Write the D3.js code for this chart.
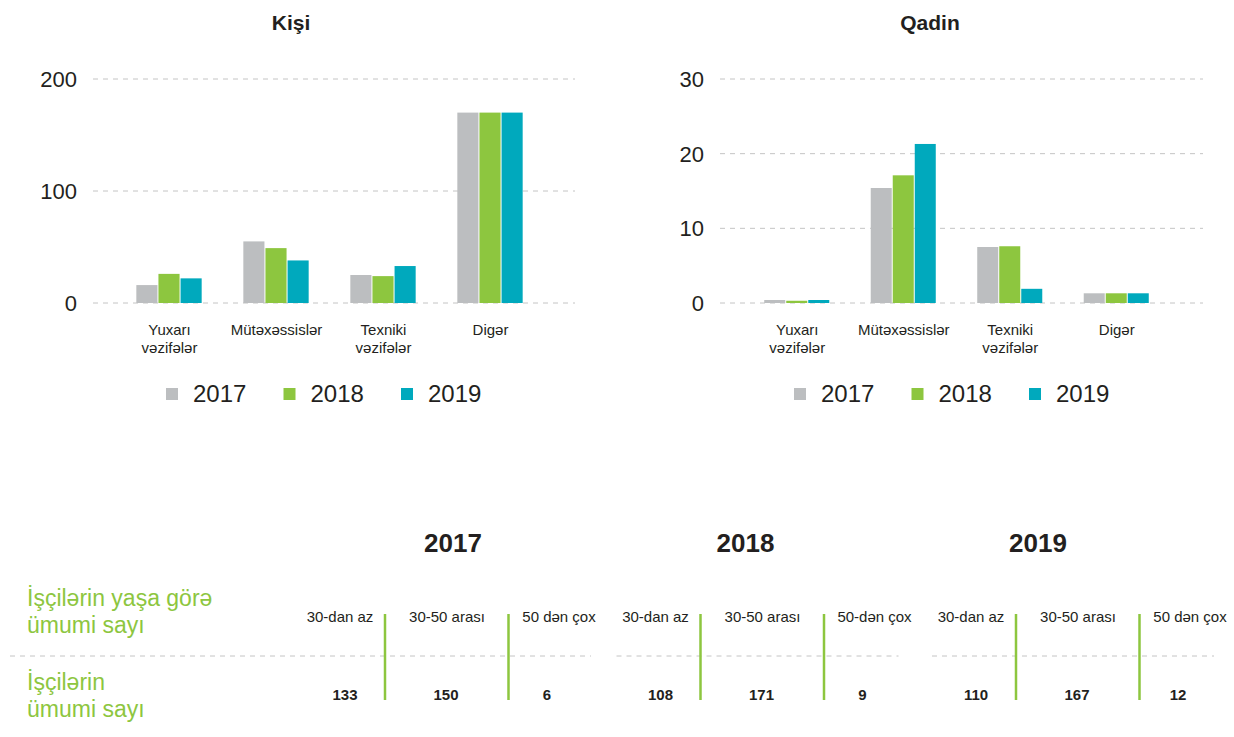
<!DOCTYPE html>
<html>
<head>
<meta charset="utf-8">
<script src="https://cdn.jsdelivr.net/npm/d3@7"></script>
<style>
  body { margin: 0; background: #fff; }
  svg { font-family: "Liberation Sans", Arial, sans-serif; }
</style>
</head>
<body>
<svg class="mySVG" width="1234" height="737"></svg>
<script>
// --- data ---
var categories = [["Yuxarı", "vəzifələr"], ["Mütəxəssislər"], ["Texniki", "vəzifələr"], ["Digər"]];
var years = ["2017", "2018", "2019"];

var kisi2017 = [16, 55, 25, 170];
var kisi2018 = [26, 49, 24, 170];
var kisi2019 = [22, 38, 33, 170];
var kisiTicks = [0, 100, 200];

var qadin2017 = [0.4, 15.4, 7.5, 1.3];
var qadin2018 = [0.3, 17.1, 7.6, 1.3];
var qadin2019 = [0.4, 21.3, 1.9, 1.3];
var qadinTicks = [0, 10, 20, 30];

var ageLabels2017 = ["30-dan az", "30-50 arası", "50 dən çox"];
var ageLabels2018 = ["30-dan az", "30-50 arası", "50-dən çox"];
var ageLabels2019 = ["30-dan az", "30-50 arası", "50 dən çox"];
var counts2017 = [133, 150, 6];
var counts2018 = [108, 171, 9];
var counts2019 = [110, 167, 12];
var rowLabels = [["İşçilərin yaşa görə", "ümumi sayı"], ["İşçilərin", "ümumi sayı"]];

var colors = ["#bcbec0", "#8dc63f", "#00a9bd"];
var dark = "#231f20", grid = "#c4c4c4", green = "#8dc63f";

var svg = d3.select(".mySVG");
var color = d3.scaleOrdinal().domain(years).range(colors);

function barChart(opts) {
    var g = svg.append("g");
    var y = d3.scaleLinear().domain([0, opts.max]).range([303, 79]);
    var x0 = d3.scaleBand()
        .domain(d3.range(categories.length))
        .range(opts.band)
        .paddingInner(0.38)
        .paddingOuter(0.19);
    var x1 = d3.scaleBand().domain(years).range([0, x0.bandwidth()]);

    g.append("text")
        .attr("x", opts.titleX).attr("y", 30)
        .attr("text-anchor", "middle")
        .attr("font-size", 21).attr("font-weight", "bold")
        .attr("fill", dark)
        .text(opts.title);

    // grid + tick labels
    g.selectAll(".grid")
        .data(opts.ticks)
        .join("line")
            .attr("x1", opts.grid[0]).attr("x2", opts.grid[1])
            .attr("y1", d => y(d)).attr("y2", d => y(d))
            .attr("stroke", grid).attr("stroke-width", 1)
            .attr("stroke-dasharray", "5,5");
    g.selectAll(".tick")
        .data(opts.ticks)
        .join("text")
            .attr("x", opts.grid[0] - 16)
            .attr("y", d => y(d) + 8)
            .attr("text-anchor", "end")
            .attr("font-size", 22).attr("fill", dark)
            .text(d => d);

    // bars
    var series = years.map((yr, i) => ({ year: yr, values: opts.series[i] }));
    g.selectAll(".series")
        .data(series)
        .join("g")
            .attr("fill", d => color(d.year))
        .selectAll("rect")
        .data(d => d.values.map((v, j) => ({ year: d.year, cat: j, value: v })))
        .join("rect")
            .attr("x", d => x0(d.cat) + x1(d.year))
            .attr("width", x1.bandwidth() - 1)
            .attr("y", d => y(d.value))
            .attr("height", d => y(0) - y(d.value));

    // category labels
    g.selectAll(".cat")
        .data(categories)
        .join("text")
            .attr("x", (d, i) => x0(i) + x0.bandwidth() / 2)
            .attr("y", 335)
            .attr("text-anchor", "middle")
            .attr("font-size", 15).attr("fill", dark)
        .selectAll("tspan")
        .data(d => d)
        .join("tspan")
            .attr("x", function() { return this.parentNode.getAttribute("x"); })
            .attr("dy", (d, i) => i ? 18 : 0)
            .text(d => d);

    // legend
    var lx = d3.scalePoint().domain(years).range(opts.legend);
    var item = g.selectAll(".legend")
        .data(years)
        .join("g")
            .attr("transform", d => `translate(${lx(d)},388)`);
    item.append("rect")
        .attr("width", 12).attr("height", 12)
        .attr("fill", d => color(d));
    item.append("text")
        .attr("x", 27).attr("y", 14)
        .attr("font-size", 24).attr("fill", dark)
        .text(d => d);
}

barChart({ title: "Kişi", titleX: 291, max: 200, ticks: kisiTicks,
           series: [kisi2017, kisi2018, kisi2019],
           band: [116, 544], grid: [93, 575], legend: [166, 401] });
barChart({ title: "Qadin", titleX: 930, max: 30, ticks: qadinTicks,
           series: [qadin2017, qadin2018, qadin2019],
           band: [744, 1170], grid: [720, 1203], legend: [794, 1029] });

// --- age table ---
var table = svg.append("g");
var blocks = years.map((yr, i) => ({
    year: yr,
    labels: [ageLabels2017, ageLabels2018, ageLabels2019][i],
    counts: [counts2017, counts2018, counts2019][i]
}));
var lineX = d3.scalePoint().domain(years).range([385, 1016]);
var titleX = d3.scalePoint().domain(years).range([453, 1038]);
var labelOffset = [-45, 62, 174], valueOffset = [-40, 61, 162];

table.selectAll(".row")
    .data(rowLabels)
    .join("text")
        .attr("x", 27)
        .attr("y", (d, i) => i ? 690 : 606)
        .attr("font-size", 23).attr("fill", green)
    .selectAll("tspan")
    .data(d => d)
    .join("tspan")
        .attr("x", 27)
        .attr("dy", (d, i) => i ? 27 : 0)
        .text(d => d);

var block = table.selectAll(".block")
    .data(blocks)
    .join("g");

block.append("line")
    .attr("x1", (d, i) => i ? lineX(d.year) - 84 : 10)
    .attr("x2", (d, i) => lineX(d.year) + (i ? 198 : 206))
    .attr("y1", 656).attr("y2", 656)
    .attr("stroke", grid).attr("stroke-dasharray", "5,5");

block.append("text")
    .attr("x", d => titleX(d.year)).attr("y", 552)
    .attr("text-anchor", "middle")
    .attr("font-size", 26).attr("font-weight", "bold").attr("fill", dark)
    .text(d => d.year);

block.selectAll(".sep")
    .data(d => [lineX(d.year), lineX(d.year) + 123.5])
    .join("line")
        .attr("x1", d => d).attr("x2", d => d)
        .attr("y1", 614).attr("y2", 700)
        .attr("stroke", green).attr("stroke-width", 2.5);

block.selectAll(".age")
    .data(d => d.labels.map((l, j) => ({ x: lineX(d.year) + labelOffset[j], text: l })))
    .join("text")
        .attr("x", d => d.x).attr("y", 622)
        .attr("text-anchor", "middle")
        .attr("font-size", 15).attr("fill", dark)
        .text(d => d.text);

block.selectAll(".count")
    .data(d => d.counts.map((c, j) => ({ x: lineX(d.year) + valueOffset[j], value: c })))
    .join("text")
        .attr("x", d => d.x).attr("y", 700)
        .attr("text-anchor", "middle")
        .attr("font-size", 15).attr("font-weight", "bold").attr("fill", dark)
        .text(d => d.value);
</script>
</body>
</html>
